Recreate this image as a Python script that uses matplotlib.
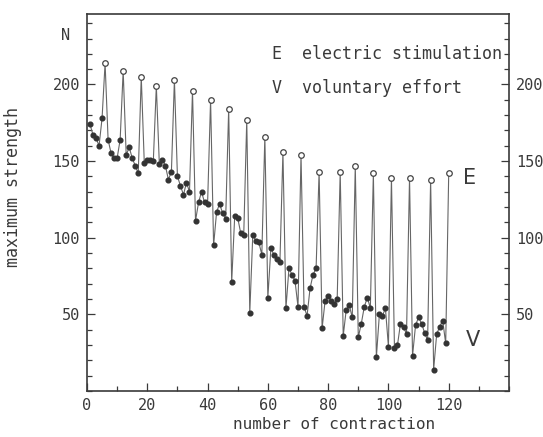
import numpy as np
import matplotlib
matplotlib.use("Agg")
import matplotlib.pyplot as plt
from matplotlib.ticker import MultipleLocator

# contraction number 1..120, every point
contraction = np.arange(1, 121)
strength = [
    174, 167, 165, 160, 178, 214,
    164, 155, 152, 152, 164, 209,
    154, 159, 152, 147, 142, 205,
    149, 151, 151, 150, 199,
    148, 151, 147, 138, 143, 203,
    140, 134, 128, 136, 130, 196,
    111, 123, 130, 123, 122, 190,
    95, 117, 122, 116, 112, 184,
    71, 114, 113, 103, 102, 177,
    51, 102, 98, 97, 89, 166,
    61, 93, 89, 86, 84, 156,
    54, 80, 76, 72, 55, 154,
    55, 49, 67, 76, 80, 143,
    41, 59, 62, 59, 57, 60, 143,
    36, 53, 56, 48, 147,
    35, 44, 55, 61, 54, 142,
    22, 50, 49, 54, 29, 139,
    28, 30, 44, 42, 37, 139,
    23, 43, 48, 44, 38, 33, 138,
    14, 37, 42, 46, 31, 142,
]
# contractions done with electric stimulation (open circles)
e_contraction = [6, 12, 18, 23, 29, 35, 41, 47, 53, 59,
                 65, 71, 77, 84, 89, 95, 101, 107, 114, 120]

legend_lines = ["E  electric stimulation", "V  voluntary effort"]

strength = np.array(strength, dtype=float)
is_e = np.isin(contraction, e_contraction)

plt.rcParams["font.family"] = ["DejaVu Sans Mono", "DejaVu Sans"]
ink = "#3a3a3a"

fig = plt.figure(figsize=(5.43, 4.37), dpi=100)
ax = fig.add_axes([87 / 543, 1 - 391 / 437, 422 / 543, 377 / 437])

ax.plot(contraction, strength, color="#666666", linewidth=0.8, zorder=2)
ax.plot(contraction[~is_e], strength[~is_e], linestyle="none", marker="o",
        markersize=3.4, color="#333333", zorder=3)
ax.plot(contraction[is_e], strength[is_e], linestyle="none", marker="o",
        markersize=4.0, markerfacecolor="white", markeredgecolor="#444444",
        markeredgewidth=0.9, zorder=4)

ax.set_xlim(0, 140)
ax.set_ylim(0, 246)
ax.set_xticks([0, 20, 40, 60, 80, 100, 120])
ax.xaxis.set_minor_locator(MultipleLocator(10))
ax.set_yticks([50, 100, 150, 200])
ax.yaxis.set_minor_locator(MultipleLocator(10))

ax.tick_params(which="both", direction="in", colors=ink, width=0.9,
               right=True, labelright=True, top=False)
ax.tick_params(which="major", length=6, labelsize=11, pad=5)
ax.tick_params(which="minor", length=3.5)
for s in ax.spines.values():
    s.set_color(ink)
    s.set_linewidth(1.2)

ax.set_xlabel("number of contraction", fontsize=11.5, color=ink)
ax.xaxis.set_label_coords(0.585, -0.068)
ax.set_ylabel("maximum strength", fontsize=12, color=ink)
ax.yaxis.set_label_coords(-0.155, 0.54)
fig.text(66 / 543, 1 - 36 / 437, "N", fontsize=11, color=ink,
         ha="center", va="center")

ax.text(61.5, 220, legend_lines[0], fontsize=12, color=ink, va="center")
ax.text(61.5, 198, legend_lines[1], fontsize=12, color=ink, va="center")
ax.text(127, 139, "E", fontsize=15, color=ink, ha="center", va="center",
        family="DejaVu Sans")
ax.text(128, 33, "V", fontsize=15, color=ink, ha="center", va="center",
        family="DejaVu Sans")

fig.savefig("out.png", dpi=100)
